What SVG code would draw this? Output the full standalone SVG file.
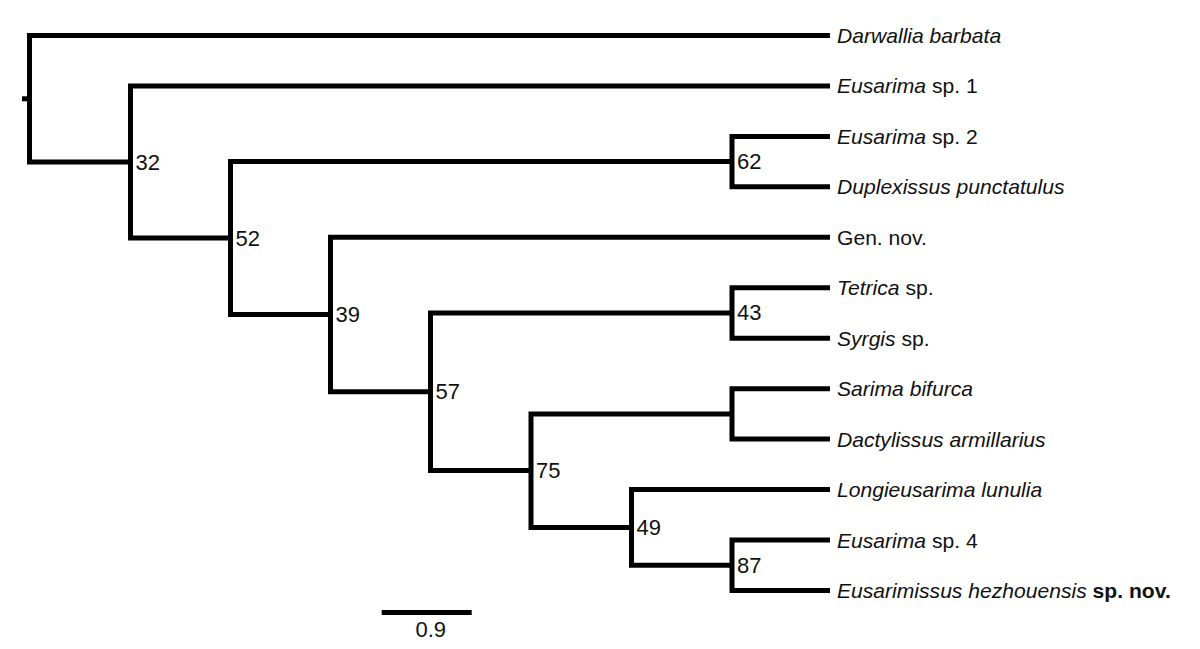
<svg xmlns="http://www.w3.org/2000/svg" width="1200" height="649" viewBox="0 0 1200 649">
<style>
.br{fill:none;stroke:#000;stroke-width:5;stroke-linejoin:miter;stroke-linecap:butt}
.leaf{font-family:"Liberation Sans",Arial,sans-serif;font-size:21.1px;fill:#111}
.sup{font-family:"Liberation Sans",Arial,sans-serif;font-size:22px;fill:#111}
.i{font-style:italic}
.b{font-weight:bold}
</style>
<rect width="1200" height="649" fill="#fff"/>
<g id="connectors">
<path class="br" d="M22,98.8 H29.5"/>
<path class="br" d="M830,35.5 H29.5 V162 H130.5"/>
<path class="br" d="M830,85.95 H130.5 V238.1 H230.5"/>
<path class="br" d="M732,161.6 H230.5 V314.55 H330.5"/>
<path class="br" d="M830,136.4 H732 V186.85 H830"/>
<path class="br" d="M830,237.3 H330.5 V391.8 H430.5"/>
<path class="br" d="M732,313 H430.5 V470.6 H531"/>
<path class="br" d="M830,287.75 H732 V338.2 H830"/>
<path class="br" d="M732,413.9 H531 V527.4 H631.5"/>
<path class="br" d="M830,388.65 H732 V439.1 H830"/>
<path class="br" d="M830,489.55 H631.5 V565.2 H732"/>
<path class="br" d="M830,540 H732 V590.45 H830"/>
</g>
<g id="node-32"><text class="sup" x="135.5" y="169.5">32</text></g>
<g id="node-52"><text class="sup" x="235.5" y="245.6">52</text></g>
<g id="node-62"><text class="sup" x="737" y="169">62</text></g>
<g id="node-39"><text class="sup" x="335.5" y="322">39</text></g>
<g id="node-43"><text class="sup" x="737" y="320">43</text></g>
<g id="node-57"><text class="sup" x="435.5" y="399.3">57</text></g>
<g id="node-75"><text class="sup" x="536" y="478">75</text></g>
<g id="node-49"><text class="sup" x="636.5" y="535">49</text></g>
<g id="node-87"><text class="sup" x="737" y="572.5">87</text></g>
<g id="leaf-darwallia"><text class="leaf" x="837" y="42.5"><tspan class="i">Darwallia barbata</tspan></text></g>
<g id="leaf-eusarima1"><text class="leaf" x="837" y="93"><tspan class="i">Eusarima</tspan> sp. 1</text></g>
<g id="leaf-eusarima2"><text class="leaf" x="837" y="143.5"><tspan class="i">Eusarima</tspan> sp. 2</text></g>
<g id="leaf-duplexissus"><text class="leaf" x="837" y="194"><tspan class="i">Duplexissus punctatulus</tspan></text></g>
<g id="leaf-gennov"><text class="leaf" x="837" y="244.5">Gen. nov.</text></g>
<g id="leaf-tetrica"><text class="leaf" x="837" y="295"><tspan class="i">Tetrica</tspan> sp.</text></g>
<g id="leaf-syrgis"><text class="leaf" x="837" y="345.5"><tspan class="i">Syrgis</tspan> sp.</text></g>
<g id="leaf-sarima"><text class="leaf" x="837" y="396"><tspan class="i">Sarima bifurca</tspan></text></g>
<g id="leaf-dactylissus"><text class="leaf" x="837" y="446.5"><tspan class="i">Dactylissus armillarius</tspan></text></g>
<g id="leaf-longieusarima"><text class="leaf" x="837" y="497"><tspan class="i">Longieusarima lunulia</tspan></text></g>
<g id="leaf-eusarima4"><text class="leaf" x="837" y="547.5"><tspan class="i">Eusarima</tspan> sp. 4</text></g>
<g id="leaf-eusarimissus"><text class="leaf" x="837" y="598"><tspan class="i">Eusarimissus hezhouensis</tspan> <tspan class="b">sp. nov.</tspan></text></g>
<g id="scale-bar">
<path class="br" d="M381.7,612.5 H471.7"/>
<text class="sup" x="415.5" y="637">0.9</text>
</g>
</svg>
